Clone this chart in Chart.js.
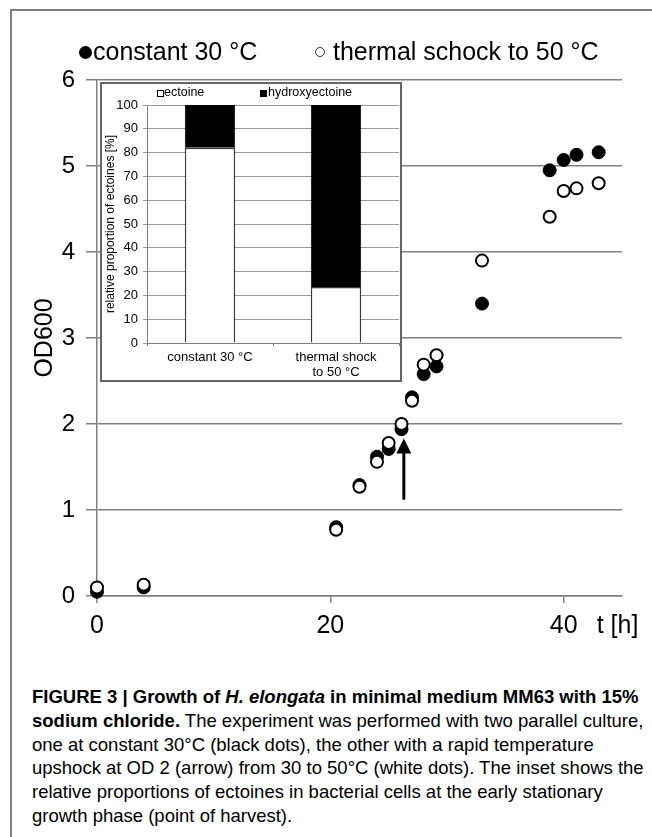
<!DOCTYPE html>
<html>
<head>
<meta charset="utf-8">
<script src="https://cdn.jsdelivr.net/npm/chart.js@4.4.1/dist/chart.umd.min.js"></script>
<style>
  html, body { margin: 0; padding: 0; background: #fff; }
  body { width: 652px; height: 837px; position: relative; overflow: hidden; font-family: "Liberation Sans", Arial, sans-serif; color: #000; }
  #frame { position: absolute; left: 10px; top: 9px; width: 700px; height: 900px; border-left: 2px solid #808080; border-top: 2px solid #808080; }
  #main { position: absolute; left: 0; top: 0; width: 652px; height: 650px; }
  .leg { position: absolute; top: 36px; font-size: 25px; line-height: 30px; white-space: nowrap; }
  .dot { position: absolute; border-radius: 50%; box-sizing: border-box; }
  #inset { position: absolute; left: 100px; top: 82px; width: 302px; height: 300px; border: 2px solid #666; box-sizing: border-box; background: #fff; }
  #insetBox { position: absolute; left: 0; top: 0; width: 298px; height: 296px; }
  .ileg { position: absolute; top: 1px; font-size: 12.5px; line-height: 15px; white-space: nowrap; }
  .sq { position: absolute; top: 6px; width: 7px; height: 7px; box-sizing: border-box; border: 1px solid #000; }
  #caption { position: absolute; left: 32px; top: 685px; font-size: 18.5px; line-height: 23.8px; white-space: nowrap; }
</style>
</head>
<body>
<div id="frame"></div>
<div id="main"><canvas id="growthChart"></canvas></div>

<div class="dot" style="left:79px; top:45.5px; width:13px; height:13px; background:#000;"></div>
<div class="leg" style="left:93px;">constant 30 °C</div>
<div class="dot" style="left:315px; top:47px; width:10px; height:10px; border:1.5px solid #333; background:#fff;"></div>
<div class="leg" style="left:333px;">thermal schock to 50 °C</div>

<div id="inset">
  <div id="insetBox"><canvas id="ectoineChart"></canvas></div>
  <div class="sq" style="left:55px; background:#fff;"></div>
  <div class="ileg" style="left:62px;">ectoine</div>
  <div class="sq" style="left:158px; background:#000;"></div>
  <div class="ileg" style="left:166px;">hydroxyectoine</div>
</div>

<div id="caption">
<b>FIGURE 3 | Growth of <i>H. elongata</i> in minimal medium MM63 with 15%</b><br>
<b>sodium chloride.</b> The experiment was performed with two parallel culture,<br>
one at constant 30°C (black dots), the other with a rapid temperature<br>
upshock at OD 2 (arrow) from 30 to 50°C (white dots). The inset shows the<br>
relative proportions of ectoines in bacterial cells at the early stationary<br>
growth phase (point of harvest).
</div>

<script>
// growth curves, t [h] and OD600
const constT  = [0, 4.0, 20.5, 22.5, 24.0, 25.0, 26.1, 27.0, 28.0, 29.1, 33.0, 38.8, 40.0, 41.1, 43.0]
const constOD = [0.05, 0.10, 0.80, 1.29, 1.62, 1.71, 1.94, 2.31, 2.58, 2.67, 3.40, 4.95, 5.07, 5.13, 5.16]
const shockT  = [0, 4.0, 20.5, 22.5, 24.0, 25.0, 26.1, 27.0, 28.0, 29.1, 33.0, 38.8, 40.0, 41.1, 43.0]
const shockOD = [0.10, 0.13, 0.77, 1.27, 1.56, 1.78, 2.00, 2.27, 2.69, 2.80, 3.90, 4.41, 4.71, 4.74, 4.80]
const xTicks = [0, 20, 40]
const xUnit = 't [h]'

// arrow = moment of the temperature upshock
const arrowT = 26.3
const arrowFrom = 1.12
const arrowTo = 1.83

// inset: relative proportion of ectoines [%]
const insetLabels = ['constant 30 °C', ['thermal shock', 'to 50 °C']]
const ectoine = [82, 23.5]
const hydroxyectoine = [18, 76.5]

const fam = '"Liberation Sans", Arial, sans-serif'

const toPoints = (ts, vs) => ts.map((t, i) => ({ x: t, y: vs[i] }))

const extras = {
  id: 'extras',
  afterDatasetsDraw(chart) {
    const { ctx, scales: { x, y } } = chart
    const ax = x.getPixelForValue(arrowT)
    const yb = y.getPixelForValue(arrowFrom)
    const yt = y.getPixelForValue(arrowTo)
    ctx.save()
    ctx.strokeStyle = '#000'
    ctx.fillStyle = '#000'
    ctx.lineWidth = 3
    ctx.beginPath()
    ctx.moveTo(ax, yb)
    ctx.lineTo(ax, yt + 12)
    ctx.stroke()
    ctx.beginPath()
    ctx.moveTo(ax, yt)
    ctx.lineTo(ax - 7.5, yt + 15)
    ctx.lineTo(ax + 7.5, yt + 15)
    ctx.closePath()
    ctx.fill()
    ctx.font = '25px ' + fam
    ctx.textAlign = 'left'
    ctx.textBaseline = 'middle'
    ctx.fillText(xUnit, x.getPixelForValue(40) + 33, x.top + 30)
    ctx.restore()
  }
}

new Chart(document.getElementById('growthChart'), {
  type: 'scatter',
  data: {
    datasets: [{
      label: 'constant 30 °C',
      data: toPoints(constT, constOD),
      pointRadius: 6.5,
      pointBackgroundColor: '#000',
      pointBorderColor: '#000',
      pointBorderWidth: 1,
      order: 2,
      clip: false
    }, {
      label: 'thermal schock to 50 °C',
      data: toPoints(shockT, shockOD),
      pointRadius: 6,
      pointBackgroundColor: '#fff',
      pointBorderColor: '#000',
      pointBorderWidth: 2,
      order: 1,
      clip: false
    }]
  },
  options: {
    animation: false,
    responsive: true,
    maintainAspectRatio: false,
    layout: { padding: { top: 80, right: 30, left: 0, bottom: 14 } },
    plugins: { legend: { display: false }, tooltip: { enabled: false } },
    scales: {
      x: {
        type: 'linear',
        min: 0,
        max: 45,
        afterBuildTicks: s => { s.ticks = xTicks.map(v => ({ value: v })) },
        afterFit: s => { s.height = 40 },
        grid: { drawOnChartArea: false, tickLength: 7, color: '#808080', lineWidth: 1.5 },
        border: { color: '#808080', width: 1.5 },
        ticks: { color: '#000', font: { size: 25, family: fam }, padding: 8, maxRotation: 0, autoSkip: false }
      },
      y: {
        min: 0,
        max: 6,
        afterFit: s => { s.width = 97 },
        grid: { color: '#808080', lineWidth: 1.5, tickLength: 11 },
        border: { color: '#808080', width: 1.5 },
        ticks: { stepSize: 1, color: '#000', font: { size: 24, family: fam }, padding: 11 },
        title: { display: true, text: 'OD600', color: '#000', font: { size: 25, family: fam }, padding: { top: 30, bottom: 0 } }
      }
    }
  },
  plugins: [extras]
})

new Chart(document.getElementById('ectoineChart'), {
  type: 'bar',
  data: {
    labels: insetLabels,
    datasets: [{
      label: 'ectoine',
      data: ectoine,
      backgroundColor: '#fff',
      borderColor: '#3a3a3a',
      borderWidth: 1.5,
      barPercentage: 0.4,
      categoryPercentage: 1
    }, {
      label: 'hydroxyectoine',
      data: hydroxyectoine,
      backgroundColor: '#000',
      borderColor: '#000',
      borderWidth: 1,
      barPercentage: 0.4,
      categoryPercentage: 1
    }]
  },
  options: {
    animation: false,
    responsive: true,
    maintainAspectRatio: false,
    layout: { padding: { top: 21, right: 1, left: 0, bottom: 0 } },
    plugins: { legend: { display: false }, tooltip: { enabled: false } },
    scales: {
      x: {
        stacked: true,
        afterFit: s => { s.height = 37 },
        grid: { offset: true, drawOnChartArea: false, tickLength: 3, color: '#808080' },
        border: { color: '#808080', width: 1 },
        ticks: { color: '#000', font: { size: 13, family: fam, lineHeight: 1.15 }, padding: 4, maxRotation: 0 }
      },
      y: {
        stacked: true,
        min: 0,
        max: 100,
        afterFit: s => { s.width = 45 },
        grid: { color: '#9a9a9a', tickLength: 4 },
        border: { color: '#808080', width: 1 },
        ticks: { stepSize: 10, color: '#000', font: { size: 13, family: fam }, padding: 5 },
        title: { display: true, text: 'relative proportion of ectoines [%]', color: '#000', font: { size: 12, family: fam }, padding: { top: 1, bottom: 0 } }
      }
    }
  }
})
</script>
</body>
</html>
